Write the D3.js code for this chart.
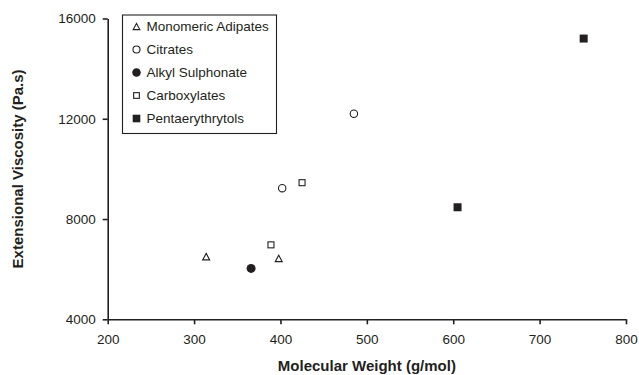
<!DOCTYPE html>
<html>
<head>
<meta charset="utf-8">
<script src="https://cdn.jsdelivr.net/npm/d3@7"></script>
<style>
  html, body { margin: 0; padding: 0; background: #fff; }
  svg { display: block; }
  text { font-family: "Liberation Sans", Arial, sans-serif; fill: #231f20; }
</style>
</head>
<body>
<svg id="chart" width="639" height="375"></svg>
<script>
// Plasticiser families: molecular weight (g/mol) vs extensional viscosity (Pa.s)
const seriesNames = ["Monomeric Adipates", "Citrates", "Alkyl Sulphonate", "Carboxylates", "Pentaerythrytols"];
const seriesSymbols = ["triangle", "circleOpen", "circleFilled", "squareOpen", "squareFilled"];

const adipatesMW = [314, 398];
const adipatesVisc = [6500, 6430];
const citratesMW = [402, 485];
const citratesVisc = [9230, 12200];
const sulphonateMW = [366];
const sulphonateVisc = [6030];
const carboxylatesMW = [389, 425];
const carboxylatesVisc = [6970, 9450];
const pentaMW = [605, 751];
const pentaVisc = [8470, 15200];

const xTicks = [200, 300, 400, 500, 600, 700, 800];
const yTicks = [4000, 8000, 12000, 16000];

const series = [
  { name: seriesNames[0], symbol: seriesSymbols[0], x: adipatesMW, y: adipatesVisc },
  { name: seriesNames[1], symbol: seriesSymbols[1], x: citratesMW, y: citratesVisc },
  { name: seriesNames[2], symbol: seriesSymbols[2], x: sulphonateMW, y: sulphonateVisc },
  { name: seriesNames[3], symbol: seriesSymbols[3], x: carboxylatesMW, y: carboxylatesVisc },
  { name: seriesNames[4], symbol: seriesSymbols[4], x: pentaMW, y: pentaVisc }
];

const ink = "#231f20";
const svg = d3.select("#chart");
const margin = { left: 107.7, right: 639 - 626, top: 18.5, bottom: 375 - 319.3 };

const x = d3.scaleLinear().domain([200, 800]).range([margin.left, 639 - margin.right]);
const y = d3.scaleLinear().domain([4000, 16000]).range([375 - margin.bottom, margin.top]);

// Axes
const xAxis = svg.append("g")
  .attr("transform", `translate(0,${y(4000)})`)
  .call(d3.axisBottom(x).tickValues(xTicks).tickFormat(d3.format("d"))
    .tickSize(5).tickPadding(10).tickSizeOuter(0));
const yAxis = svg.append("g")
  .attr("transform", `translate(${x(200)},0)`)
  .call(d3.axisLeft(y).tickValues(yTicks).tickFormat(d3.format("d"))
    .tickSize(5).tickPadding(7).tickSizeOuter(0));

[xAxis, yAxis].forEach(g => {
  g.select(".domain").attr("stroke", ink).attr("stroke-width", 1.6);
  g.selectAll(".tick line").attr("stroke", ink).attr("stroke-width", 1.6);
  g.selectAll(".tick text").style("font-size", "13.5px").attr("fill", ink);
});

// Axis titles
svg.append("text")
  .attr("x", (x(200) + x(800)) / 2)
  .attr("y", 370.5)
  .attr("text-anchor", "middle")
  .style("font-size", "15px")
  .style("font-weight", "bold")
  .text("Molecular Weight (g/mol)");

svg.append("text")
  .attr("transform", `translate(23,${(y(4000) + y(16000)) / 2}) rotate(-90)`)
  .attr("text-anchor", "middle")
  .style("font-size", "15px")
  .style("font-weight", "bold")
  .text("Extensional Viscosity (Pa.s)");

// Marker drawing
function drawMarker(g, symbol, cx, cy, scale) {
  const s = scale || 1;
  if (symbol === "triangle") {
    const w = 7 * s, h = 6.5 * s;
    g.append("path")
      .attr("d", `M${cx},${cy - h / 2}L${cx + w / 2},${cy + h / 2}L${cx - w / 2},${cy + h / 2}Z`)
      .attr("fill", "#fff").attr("stroke", ink).attr("stroke-width", 1.1);
  } else if (symbol === "circleOpen") {
    g.append("circle").attr("cx", cx).attr("cy", cy).attr("r", 3.7 * s)
      .attr("fill", "#fff").attr("stroke", ink).attr("stroke-width", 1.1);
  } else if (symbol === "circleFilled") {
    g.append("circle").attr("cx", cx).attr("cy", cy).attr("r", 4.5 * s)
      .attr("fill", ink).attr("stroke", "none");
  } else if (symbol === "squareOpen") {
    const a = 6 * s;
    g.append("rect").attr("x", cx - a / 2).attr("y", cy - a / 2).attr("width", a).attr("height", a)
      .attr("fill", "#fff").attr("stroke", ink).attr("stroke-width", 1.1);
  } else if (symbol === "squareFilled") {
    const a = 8 * s;
    g.append("rect").attr("x", cx - a / 2).attr("y", cy - a / 2).attr("width", a).attr("height", a)
      .attr("fill", ink).attr("stroke", "none");
  }
}

// Points
const pts = svg.append("g");
series.forEach(sr => {
  sr.x.forEach((mw, i) => drawMarker(pts, sr.symbol, x(mw), y(sr.y[i])));
});

// Legend
const lg = svg.append("g");
lg.append("rect")
  .attr("x", 122.5).attr("y", 15).attr("width", 154).attr("height", 118.5)
  .attr("fill", "#fff").attr("stroke", ink).attr("stroke-width", 1.1);
series.forEach((sr, i) => {
  const ry = 26.5 + i * 23;
  drawMarker(lg, sr.symbol, 136.5, ry, 0.95);
  lg.append("text")
    .attr("x", 146.5).attr("y", ry).attr("dy", "0.36em")
    .style("font-size", "13.5px")
    .text(sr.name);
});
</script>
</body>
</html>
